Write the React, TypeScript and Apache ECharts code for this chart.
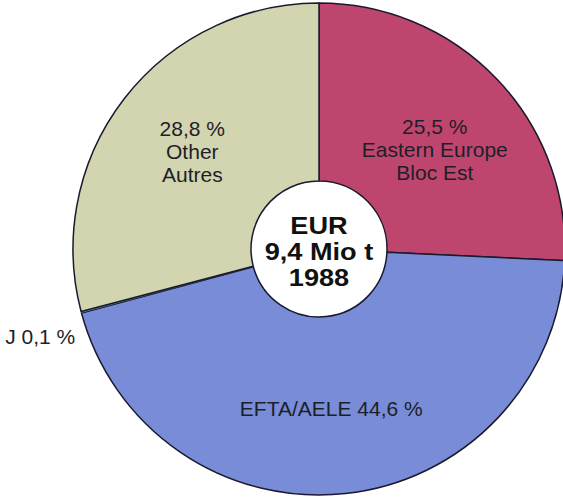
import React, { useEffect, useRef } from "react";
import * as echarts from "echarts";

const categories = ["Eastern Europe", "EFTA/AELE", "J", "Other"];
const values = [25.5, 44.6, 0.1, 28.8];
const labelTexts = [
  "25,5 %\nEastern Europe\nBloc Est",
  "EFTA/AELE 44,6 %",
  "J 0,1 %",
  "28,8 %\nOther\nAutres",
];
const colors = ["#be466e", "#788cd7", "#5fb8cc", "#d3d4b0"];
const centerText = "EUR\n9,4 Mio t\n1988";

const FONT = '"Liberation Sans", Arial, Helvetica, sans-serif';

export default function App() {
  const ref = useRef<HTMLDivElement>(null);
  useEffect(() => {
    if (!ref.current) return;
    const chart = echarts.init(ref.current, undefined, { renderer: "svg" });
    const cx = 319;
    const cy = 249;
    const data = categories.map((name, i) => ({
      name,
      value: values[i],
      itemStyle:
        i === 2
          ? { color: colors[i], borderWidth: 0.6 }
          : { color: colors[i] },
      label:
        i === 2
          ? { position: "outside", formatter: labelTexts[i] }
          : { position: "inside", formatter: labelTexts[i] },
      labelLine: { show: false, length: 0, length2: 0 },
    }));
    chart.setOption({
      animation: false,
      backgroundColor: "#ffffff",
      series: [
        {
          type: "pie",
          center: [cx, cy],
          radius: [68, 246],
          startAngle: 90,
          clockwise: true,
          avoidLabelOverlap: false,
          itemStyle: { borderColor: "#1a1a2e", borderWidth: 1.5 },
          label: {
            color: "#1e1e28",
            fontFamily: FONT,
            fontSize: 21,
            lineHeight: 23,
            align: "center",
          },
          labelLayout: (p: any) => {
            if (p.dataIndex === 0) return { dy: 11 };
            if (p.dataIndex === 1) return { dx: -5 };
            if (p.dataIndex === 2) return { dx: -1, dy: 24 };
            return {};
          },
          emphasis: { disabled: true },
          data,
        },
      ],
      graphic: [
        {
          type: "text",
          x: cx,
          y: cy + 3,
          scaleX: 1.18,
          style: {
            text: centerText,
            font: `bold 23px ${FONT}`,
            fill: "#111111",
            textAlign: "center",
            textVerticalAlign: "middle",
            lineHeight: 26,
          },
        },
      ],
    });
    return () => chart.dispose();
  }, []);
  return (
    <div
      ref={ref}
      style={{ position: "fixed", left: 0, top: 0, width: 563, height: 497 }}
    />
  );
}
